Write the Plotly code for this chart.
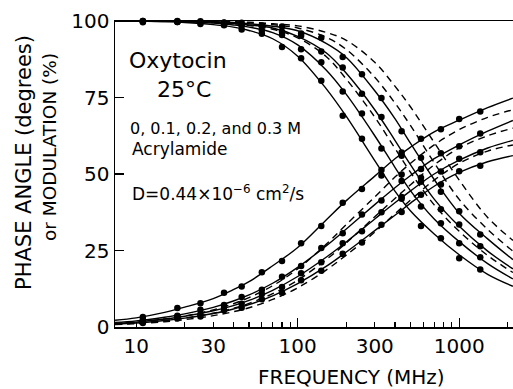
import plotly.graph_objects as go

# ---------------- data ----------------
freq_grid = [7.4, 10, 15, 20, 30, 40, 50, 70, 100, 150, 200, 300, 400, 500, 700, 1000, 1500, 2150]

# modulation (%) fitted curves, solid (0, 0.1, 0.2, 0.3 M acrylamide)
mod_fit_0 = [100, 99.9, 99.8, 99.5, 98.8, 98.0, 96.9, 94.2, 88.5, 77.9, 68.8, 54.4, 44.4, 37.9, 30.4, 23.6, 17.2, 13.3]
mod_fit_1 = [100, 100, 99.85, 99.75, 99.3, 98.7, 98.0, 96.2, 92.2, 84, 76, 62.5, 52.2, 44.5, 35.3, 27.9, 20.7, 15.7]
mod_fit_2 = [100, 100, 99.95, 99.85, 99.6, 99.2, 98.7, 97.7, 95.0, 89.6, 82.9, 71.0, 61.0, 53.0, 41.8, 32.9, 24.8, 19.0]
mod_fit_3 = [100, 100, 100, 99.9, 99.8, 99.5, 99.1, 98.3, 96.8, 92.7, 88.1, 77.2, 68.1, 60.0, 48.2, 37.2, 28.8, 22.0]
# modulation, dashed curves
mod_dash_1 = [100, 100, 99.9, 99.8, 99.5, 99.1, 98.5, 97.3, 94.5, 88.4, 81, 68.6, 58.4, 50.5, 39.9, 31.3, 23.4, 17.8]
mod_dash_2 = [100, 100, 100, 99.95, 99.85, 99.65, 99.4, 98.8, 97.7, 94.7, 90.7, 81.6, 73.2, 65.8, 53.7, 41.7, 31.9, 24.8]
mod_dash_3 = [100, 100, 100, 100, 99.9, 99.8, 99.6, 99.1, 98.4, 96.3, 93.7, 86.5, 78.7, 71.9, 60.3, 48.0, 35.8, 28.3]

# phase angle (degrees) fitted curves, solid
phase_fit_0 = [2.2, 3, 4.8, 6.5, 9.3, 12.2, 14.8, 20, 26, 35, 41.3, 49.3, 55, 58.8, 63.8, 67.6, 71.7, 74.8]
phase_fit_1 = [1.5, 2, 3.2, 4.3, 6.4, 8.5, 10.5, 14.3, 19.5, 26.5, 32, 40, 45.5, 49.5, 55, 59.5, 64, 67.5]
phase_fit_2 = [1.2, 1.6, 2.6, 3.5, 5.3, 7, 8.7, 12, 16.5, 22.8, 27.8, 35.3, 40.6, 44.5, 50, 54.5, 58.5, 61]
phase_fit_3 = [1, 1.3, 2.1, 2.9, 4.4, 5.9, 7.3, 10.2, 14.2, 19.8, 24.5, 31.5, 36.5, 40.5, 46, 50.5, 54, 56]
# phase, dashed curves
phase_dash_1 = [1.2, 1.6, 2.6, 3.6, 5.6, 7.6, 9.6, 13.5, 19, 27, 33.5, 42.5, 49, 53.5, 59.5, 64.5, 68.5, 71]
phase_dash_2 = [1, 1.3, 2.1, 2.9, 4.5, 6.1, 7.7, 10.9, 15.3, 22, 27.5, 36, 42, 46.5, 53, 58.5, 62.5, 65]
phase_dash_3 = [0.8, 1.1, 1.7, 2.4, 3.7, 5, 6.3, 9, 12.8, 18.6, 23.5, 31, 37, 41.5, 48, 53.5, 57.5, 59.5]

# measured points
freq_meas = [11, 18, 25, 35, 45, 60, 80, 105, 140, 190, 250, 330, 440, 580, 770, 1000, 1350]
mod_meas_0 = [99.6, 99.8, 99.0, 98.6, 97.2, 95.8, 91.5, 87.8, 80.5, 69, 61.5, 49.5, 42.5, 33, 29, 22.5, 18.8]
mod_meas_1 = [100, 99.7, 99.6, 98.8, 98.5, 97.0, 95.4, 90.8, 86.5, 77.0, 69.8, 58.3, 49.8, 39.4, 33.9, 27.4, 22.8]
mod_meas_2 = [99.8, 100, 99.6, 99.5, 98.7, 98.4, 96.5, 95.2, 90.0, 84.8, 76.2, 68.6, 57.0, 48.8, 38.5, 33.5, 26.4]
mod_meas_3 = [100, 99.7, 99.9, 99.4, 99.4, 98.5, 98.2, 95.9, 94.5, 88.2, 82.6, 74.8, 64.0, 55.3, 44.2, 37.8, 30.2]
phase_meas_0 = [3.3, 6.2, 7.8, 11.2, 13.2, 17.9, 21.6, 27.4, 33.0, 40.6, 45.1, 51.3, 56.0, 61.5, 64.6, 68.0, 70.4]
phase_meas_1 = [2.4, 3.7, 5.6, 7.2, 9.8, 12.2, 16.4, 19.9, 25.8, 30.6, 36.8, 41.3, 47.7, 51.6, 56.8, 59.1, 63.2]
phase_meas_2 = [1.6, 3.4, 4.2, 6.5, 7.6, 10.8, 13.1, 17.6, 21.2, 27.4, 31.3, 37.5, 41.9, 47.5, 50.8, 55.0, 57.1]
phase_meas_3 = [1.3, 2.8, 3.4, 5.5, 6.3, 9.1, 11.2, 15.3, 18.4, 23.9, 27.6, 33.4, 37.6, 43.2, 46.6, 50.9, 52.7]

x_tick_vals = [10, 30, 100, 300, 1000]
x_tick_text = ["10", "30", "100", "300", "1000"]
x_minor_vals = [20, 40, 50, 60, 70, 80, 90, 200, 400, 500, 600, 700, 800, 900, 2000]
x_long_vals = [100, 1000]
y_tick_vals = [0, 25, 50, 75, 100]

# ---------------- figure ----------------
W, H = 513, 389
L, R, T, B = 115, 0, 21, 62
FONT = "DejaVu Sans"

fig = go.Figure()

solid = dict(color="black", width=1.4)
dashed = dict(color="black", width=1.4, dash="7px,5px")

for ys in [mod_fit_0, mod_fit_1, mod_fit_2, mod_fit_3,
           phase_fit_0, phase_fit_1, phase_fit_2, phase_fit_3]:
    fig.add_trace(go.Scatter(x=freq_grid, y=ys, mode="lines", line=solid,
                             line_shape="spline", hoverinfo="skip"))
for ys in [mod_dash_1, mod_dash_2, mod_dash_3, phase_dash_1, phase_dash_2, phase_dash_3]:
    fig.add_trace(go.Scatter(x=freq_grid, y=ys, mode="lines", line=dashed,
                             line_shape="spline", hoverinfo="skip"))
for i, ys in enumerate([mod_meas_0, mod_meas_1, mod_meas_2, mod_meas_3,
                        phase_meas_0, phase_meas_1, phase_meas_2, phase_meas_3]):
    fig.add_trace(go.Scatter(x=freq_meas, y=ys, mode="markers",
                             marker=dict(color="black", size=6.5),
                             xaxis="x2" if i == 0 else "x",
                             hoverinfo="skip", cliponaxis=False))

def px2paper_x(px):
    return (px - L) / (W - L - R)

def py2paper_y(py):
    return (H - B - py) / (H - T - B)

xr = [0.869, 3.333]
fig.update_layout(
    width=W, height=H,
    margin=dict(l=L, r=R, t=T, b=B, pad=0, autoexpand=False),
    paper_bgcolor="white", plot_bgcolor="white",
    showlegend=False,
    font=dict(family=FONT, color="black"),
    xaxis=dict(type="log", range=xr, showgrid=False, zeroline=False, automargin=False,
               showline=True, linecolor="black", linewidth=1.5, mirror=True,
               tickvals=x_tick_vals, ticktext=x_tick_text,
               ticks="inside", ticklen=5, tickwidth=1.2, tickcolor="black",
               tickfont=dict(size=20, family=FONT),
               minor=dict(tickvals=x_minor_vals, ticks="inside", ticklen=5,
                          tickwidth=1.2, tickcolor="black", showgrid=False)),
    xaxis2=dict(type="log", range=xr, overlaying="x", anchor="y", side="bottom",
                showgrid=False, zeroline=False, showline=False, automargin=False,
                tickvals=x_long_vals, showticklabels=False,
                ticks="inside", ticklen=9, tickwidth=1.2, tickcolor="black"),
    yaxis=dict(range=[0, 100], showgrid=False, zeroline=False, automargin=False,
               showline=True, linecolor="black", linewidth=1.5,
               tickvals=y_tick_vals, ticks="inside", ticklen=9, tickwidth=1.2,
               tickcolor="black", tickfont=dict(size=20, family=FONT)),
)

ann = [
    dict(text="Oxytocin", px=127, py=61, size=22),
    dict(text="25°C", px=155, py=90, size=22),
    dict(text="0, 0.1, 0.2, and 0.3 M", px=128, py=128, size=16),
    dict(text="Acrylamide", px=130, py=149, size=17),
    dict(text="D=0.44×10<sup>−6</sup> cm<sup>2</sup>/s", px=130, py=193, size=17),
]
for a in ann:
    fig.add_annotation(text=a["text"], xref="paper", yref="paper",
                       x=px2paper_x(a["px"]), y=py2paper_y(a["py"]),
                       xanchor="left", yanchor="middle", showarrow=False,
                       font=dict(size=a["size"], family=FONT, color="black"))

fig.add_annotation(text="FREQUENCY (MHz)", xref="paper", yref="paper",
                   x=px2paper_x(351), y=py2paper_y(377), xanchor="center", yanchor="middle",
                   showarrow=False, font=dict(size=20, family=FONT, color="black"))
fig.add_annotation(text="PHASE ANGLE (degrees)", xref="paper", yref="paper",
                   x=px2paper_x(24), y=py2paper_y(163), xanchor="center", yanchor="middle",
                   textangle=-90, showarrow=False, font=dict(size=21, family=FONT, color="black"))
fig.add_annotation(text="or MODULATION (%)", xref="paper", yref="paper",
                   x=px2paper_x(49), y=py2paper_y(147), xanchor="center", yanchor="middle",
                   textangle=-90, showarrow=False, font=dict(size=18.5, family=FONT, color="black"))

fig.write_html("out.html", config={"displayModeBar": False, "staticPlot": True},
               post_script="document.body.style.margin='0';document.body.style.padding='0';")
